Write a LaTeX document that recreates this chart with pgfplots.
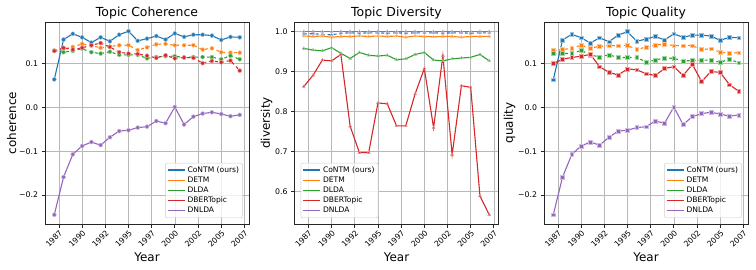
\documentclass[border=0pt]{standalone}
\usepackage{fontspec}
\setmainfont{DejaVu Sans}
\usepackage{pgfplots}
\pgfplotsset{compat=1.18}
\usepackage{pgfplotstable}

\definecolor{cblue}{HTML}{1F77B4}
\definecolor{corange}{HTML}{FF7F0E}
\definecolor{cgreen}{HTML}{2CA02C}
\definecolor{cred}{HTML}{D62728}
\definecolor{cpurple}{HTML}{9467BD}

\pgfplotstableread{
year con detm dlda dbert dnlda
1987 0.064 0.130 0.129 0.129 -0.245
1988 0.155 0.133 0.126 0.136 -0.159
1989 0.168 0.138 0.129 0.132 -0.107
1990 0.160 0.145 0.134 0.136 -0.088
1991 0.148 0.141 0.126 0.142 -0.079
1992 0.160 0.136 0.123 0.147 -0.086
1993 0.151 0.139 0.127 0.138 -0.068
1994 0.166 0.142 0.120 0.126 -0.054
1995 0.174 0.142 0.120 0.123 -0.052
1996 0.152 0.131 0.120 0.122 -0.046
1997 0.157 0.137 0.112 0.118 -0.044
1998 0.163 0.144 0.115 0.113 -0.031
1999 0.155 0.145 0.117 0.119 -0.036
2000 0.169 0.142 0.117 0.112 0.001
2001 0.161 0.142 0.114 0.114 -0.039
2002 0.166 0.142 0.115 0.113 -0.021
2003 0.166 0.132 0.115 0.101 -0.014
2004 0.164 0.135 0.115 0.106 -0.011
2005 0.154 0.126 0.110 0.103 -0.015
2006 0.161 0.125 0.118 0.107 -0.020
2007 0.160 0.125 0.110 0.084 -0.017
}\coh

\pgfplotstableread{
year con detm dlda dbert dnlda
1987 0.993 0.988 0.957 0.862 0.999
1988 0.994 0.987 0.953 0.890 0.999
1989 0.992 0.988 0.951 0.928 0.999
1990 0.991 0.985 0.959 0.926 0.999
1991 0.995 0.987 0.945 0.942 0.999
1992 0.996 0.987 0.932 0.763 0.999
1993 0.995 0.988 0.947 0.697 0.999
1994 0.996 0.987 0.940 0.697 0.999
1995 0.996 0.988 0.938 0.821 0.999
1996 0.995 0.987 0.940 0.819 0.999
1997 0.996 0.988 0.929 0.764 0.999
1998 0.995 0.985 0.931 0.764 0.999
1999 0.996 0.988 0.942 0.843 0.999
2000 0.996 0.987 0.947 0.907 0.999
2001 0.996 0.986 0.928 0.759 0.999
2002 0.995 0.987 0.926 0.939 0.999
2003 0.996 0.987 0.931 0.692 0.999
2004 0.996 0.985 0.933 0.864 0.999
2005 0.995 0.987 0.935 0.860 0.999
2006 0.996 0.987 0.942 0.589 0.999
2007 0.996 0.987 0.926 0.542 0.999
}\div

\pgfplotstableread{
year con detm dlda dbert dnlda
1987 0.063 0.130 0.123 0.100 -0.245
1988 0.154 0.132 0.123 0.110 -0.159
1989 0.167 0.135 0.123 0.114 -0.107
1990 0.159 0.142 0.130 0.117 -0.088
1991 0.147 0.136 0.120 0.121 -0.079
1992 0.159 0.139 0.115 0.093 -0.086
1993 0.150 0.141 0.120 0.080 -0.068
1994 0.165 0.141 0.114 0.074 -0.054
1995 0.173 0.142 0.114 0.088 -0.052
1996 0.151 0.132 0.114 0.086 -0.046
1997 0.156 0.138 0.104 0.077 -0.044
1998 0.162 0.142 0.108 0.073 -0.031
1999 0.154 0.145 0.113 0.089 -0.036
2000 0.168 0.141 0.112 0.093 0.001
2001 0.160 0.141 0.106 0.073 -0.039
2002 0.165 0.141 0.107 0.098 -0.021
2003 0.165 0.132 0.108 0.059 -0.014
2004 0.163 0.134 0.108 0.082 -0.011
2005 0.153 0.126 0.103 0.080 -0.015
2006 0.160 0.124 0.110 0.052 -0.020
2007 0.159 0.125 0.102 0.037 -0.017
}\qual

\pgfplotsset{
  panel/.style={
    scale only axis, width=204bp, height=202bp,
    xmin=1986, xmax=2008,
    xtick={1987.5,1990,1992.5,1995,1997.5,2000,2002.5,2005,2007.5},
    xticklabels={1987,1990,1992,1995,1997,2000,2002,2005,2007},
    xticklabel style={rotate=45, anchor=north east, font=\fontsize{7.8}{9}\selectfont, inner sep=1.2bp},
    yticklabel style={font=\fontsize{7.8}{9}\selectfont},
    grid=major, grid style={color=black!28, line width=0.6bp},
    axis line style={color=black!85, line width=0.8bp},
    tick style={color=black!85, line width=0.8bp},
    tick align=outside, major tick length=3.5bp,
    xtick pos=left, ytick pos=left,
    title style={font=\fontsize{12.5}{15}\selectfont, yshift=-6.5bp},
    xlabel={Year},
    ylabel shift=-4bp,
    label style={font=\fontsize{12}{14}\selectfont},
    legend style={font=\fontsize{7.6}{9}\selectfont, draw=black!20, rounded corners=2bp,
      fill=white, fill opacity=0.8, text opacity=1, inner sep=1.6bp,
      row sep=-1bp},
    legend cell align=left,
    every axis plot/.append style={line width=1.1bp},
  },
  mk/.style={mark options={solid, fill=#1, draw=#1!45!white, line width=0.5bp}},
  lg/.style={line legend, color=#1, solid, line width=1.6bp},
}

\newcommand{\legendset}{%
  \addlegendimage{lg=cblue}\addlegendentry{CoNTM (ours)}
  \addlegendimage{lg=corange}\addlegendentry{DETM}
  \addlegendimage{lg=cgreen}\addlegendentry{DLDA}
  \addlegendimage{lg=cred}\addlegendentry{DBERTopic}
  \addlegendimage{lg=cpurple}\addlegendentry{DNLDA}}

\begin{document}
\begin{tikzpicture}
\path[use as bounding box] (0,0) rectangle (756bp,270bp);

% Panel 1
\begin{axis}[panel, at={(45bp,46bp)}, anchor=south west,
  title={Topic Coherence}, ylabel={coherence},
  ymin=-0.266, ymax=0.195,
  ytick={-0.2,-0.1,0,0.1}, yticklabels={−0.2,−0.1,0.0,0.1},
  legend pos=south east]
\legendset
\addplot[forget plot, color=cblue, mark=*, mark size=2bp, mk=cblue] table[x=year,y=con]{\coh};
\addplot[forget plot, color=corange, dashed, mark=*, mark size=2bp, mk=corange] table[x=year,y=detm]{\coh};
\addplot[forget plot, color=cgreen, dashed, mark=*, mark size=2bp, mk=cgreen] table[x=year,y=dlda]{\coh};
\addplot[forget plot, color=cred, dashed, mark=*, mark size=2bp, mk=cred] table[x=year,y=dbert]{\coh};
\addplot[forget plot, color=cpurple, mark=*, mark size=2bp, mk=cpurple] table[x=year,y=dnlda]{\coh};
\end{axis}

% Panel 2
\begin{axis}[panel, at={(294.5bp,46bp)}, anchor=south west,
  title={Topic Diversity}, ylabel={diversity},
  ymin=0.519, ymax=1.023,
  ytick={0.6,0.7,0.8,0.9,1.0}, yticklabels={0.6,0.7,0.8,0.9,1.0},
  legend pos=south west]
\legendset
\addplot[forget plot, color=cblue, dashed, mark=triangle*, mark size=1.7bp, mk=cblue] table[x=year,y=con]{\div};
\addplot[forget plot, color=corange, mark=triangle*, mark size=1.7bp, mk=corange] table[x=year,y=detm]{\div};
\addplot[forget plot, color=cgreen, mark=triangle*, mark size=1.7bp, mk=cgreen] table[x=year,y=dlda]{\div};
\addplot[forget plot, color=cred, mark=triangle*, mark size=1.7bp, mk=cred] table[x=year,y=dbert]{\div};
\addplot[forget plot, color=cpurple, mark=triangle*, mark size=1.7bp, mk=cpurple] table[x=year,y=dnlda]{\div};
\end{axis}

% Panel 3
\begin{axis}[panel, at={(544bp,46bp)}, anchor=south west,
  title={Topic Quality}, ylabel={quality},
  ymin=-0.266, ymax=0.195,
  ytick={-0.2,-0.1,0,0.1}, yticklabels={−0.2,−0.1,0.0,0.1},
  legend pos=south east]
\legendset
\addplot[forget plot, color=cblue, mark=square*, mark size=1.9bp, mk=cblue] table[x=year,y=con]{\qual};
\addplot[forget plot, color=corange, dashed, mark=square*, mark size=1.9bp, mk=corange] table[x=year,y=detm]{\qual};
\addplot[forget plot, color=cgreen, dashed, mark=square*, mark size=1.9bp, mk=cgreen] table[x=year,y=dlda]{\qual};
\addplot[forget plot, color=cred, mark=square*, mark size=1.9bp, mk=cred] table[x=year,y=dbert]{\qual};
\addplot[forget plot, color=cpurple, mark=square*, mark size=1.9bp, mk=cpurple] table[x=year,y=dnlda]{\qual};
\end{axis}
\end{tikzpicture}
\end{document}
